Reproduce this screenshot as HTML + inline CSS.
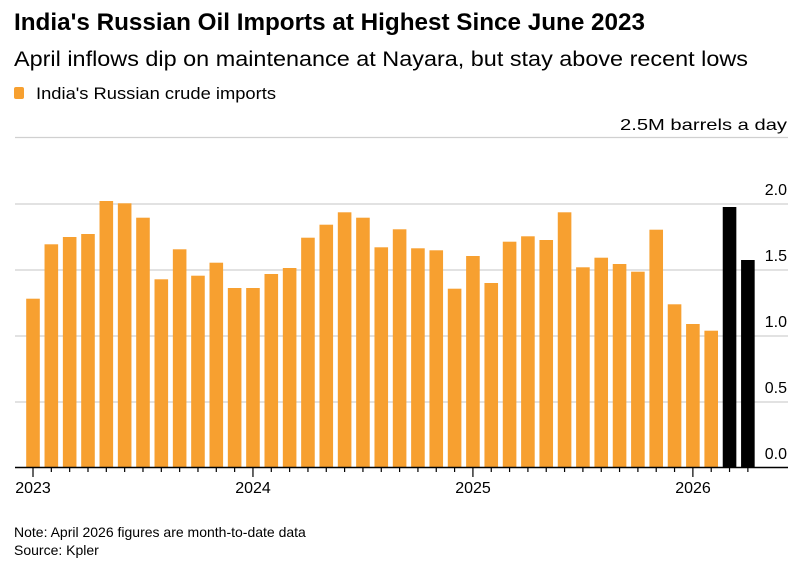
<!DOCTYPE html>
<html><head><meta charset="utf-8"><style>
html,body{margin:0;padding:0;background:#fff;}
svg{display:block;font-family:"Liberation Sans",sans-serif;}
</style></head><body>
<svg width="810" height="574" viewBox="0 0 810 574" xmlns="http://www.w3.org/2000/svg">
<rect width="810" height="574" fill="#fff"/>
<text x="14" y="30" font-size="24" font-weight="bold" fill="#000" textLength="631" lengthAdjust="spacingAndGlyphs">India's Russian Oil Imports at Highest Since June 2023</text>
<text x="14" y="66" font-size="21" fill="#000" textLength="734" lengthAdjust="spacingAndGlyphs">April inflows dip on maintenance at Nayara, but stay above recent lows</text>
<rect x="14" y="87" width="10" height="12" rx="2" fill="#f7a030"/>
<text x="36" y="99" font-size="17" fill="#000" textLength="240" lengthAdjust="spacingAndGlyphs">India's Russian crude imports</text>
<text x="787" y="130" font-size="16" fill="#000" text-anchor="end" textLength="167" lengthAdjust="spacingAndGlyphs">2.5M barrels a day</text>
<g stroke="#d0d0d0" stroke-width="1.2">
<line x1="15" y1="137.5" x2="788" y2="137.5"/>
<line x1="15" y1="204" x2="788" y2="204"/>
<line x1="15" y1="270" x2="788" y2="270"/>
<line x1="15" y1="336" x2="788" y2="336"/>
<line x1="15" y1="402" x2="788" y2="402"/>
</g>
<g font-size="16" fill="#000" text-anchor="end">
<text x="787" y="195">2.0</text>
<text x="787" y="261">1.5</text>
<text x="787" y="327">1.0</text>
<text x="787" y="393">0.5</text>
<text x="787" y="459">0.0</text>
</g>
<g id="bars"></g>
<line x1="15" y1="467.5" x2="788" y2="467.5" stroke="#000" stroke-width="1.5"/>
<g id="ticks" stroke="#000" stroke-width="1.2"></g>
<g font-size="16" fill="#000" text-anchor="middle">
<text x="33" y="493">2023</text>
<text x="253" y="493">2024</text>
<text x="473" y="493">2025</text>
<text x="693" y="493">2026</text>
</g>
<text x="14" y="537" font-size="14" fill="#000">Note: April 2026 figures are month-to-date data</text>
<text x="14" y="555" font-size="14" fill="#000">Source: Kpler</text>
</svg>
<script>
var tops=[298.7,244.3,237,234,201,203.3,217.7,279.3,249.3,275.7,262.7,288,288,274,268,237.7,224.7,212.3,217.7,247.3,229.3,248.3,250.3,288.7,256,283,241.7,236.3,240,212.3,267.3,257.7,264,271.7,229.7,304.3,324,330.7,207,260];
var ns="http://www.w3.org/2000/svg",b=document.getElementById("bars"),t=document.getElementById("ticks");
for(var i=0;i<40;i++){var cx=33+i*18.33;var r=document.createElementNS(ns,"rect");
r.setAttribute("x",cx-6.8);r.setAttribute("y",tops[i]);r.setAttribute("width",13.6);r.setAttribute("height",467.5-tops[i]);
r.setAttribute("fill",i>=38?"#000":"#f7a030");b.appendChild(r);
var l=document.createElementNS(ns,"line");l.setAttribute("x1",cx);l.setAttribute("x2",cx);l.setAttribute("y1",467.5);l.setAttribute("y2",i%12==0?477:472);t.appendChild(l);}
</script>
</body></html>
